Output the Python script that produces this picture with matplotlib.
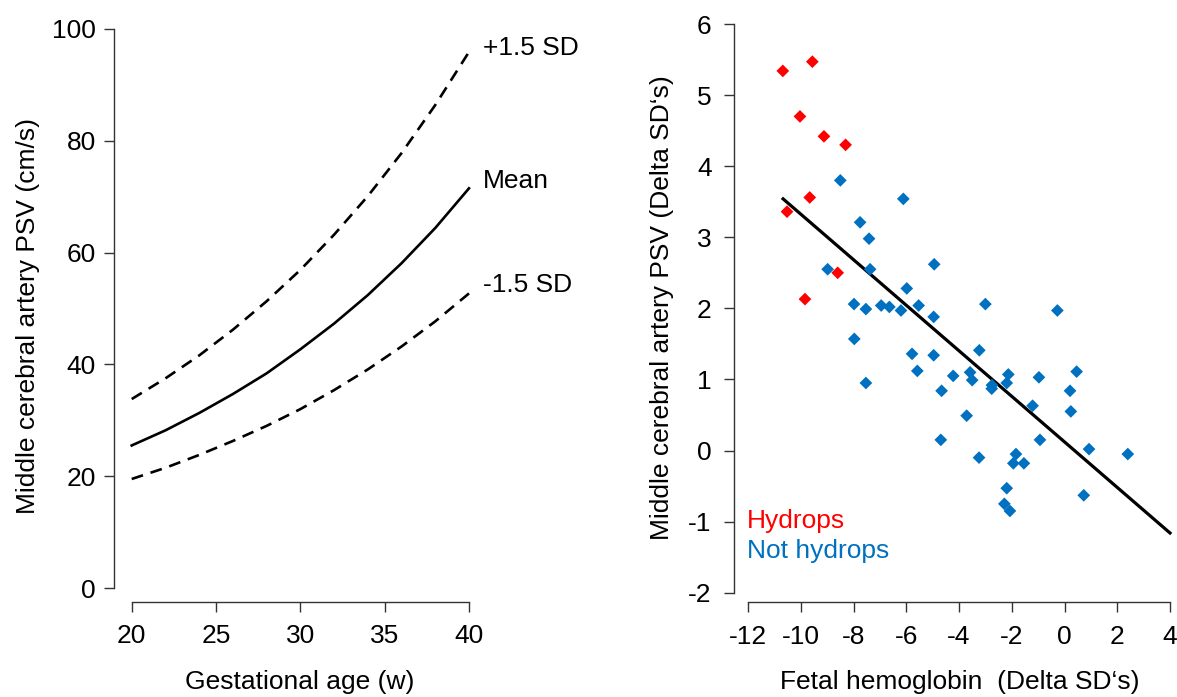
import matplotlib
matplotlib.use("Agg")
import matplotlib.pyplot as plt

plt.rcParams['font.family'] = ['Liberation Sans', 'DejaVu Sans']
plt.rcParams['axes.unicode_minus'] = False

# ---- Left panel data ----
weeks = [20, 22, 24, 26, 28, 30, 32, 34, 36, 38, 40]
mean_psv = [25.5, 28.2, 31.3, 34.7, 38.4, 42.7, 47.3, 52.4, 58.1, 64.4, 71.5]
upper_psv = [33.8, 37.5, 41.6, 46.2, 51.3, 56.9, 63.2, 70.1, 77.8, 86.4, 95.9]
lower_psv = [19.5, 21.5, 23.8, 26.3, 29.0, 32.0, 35.4, 39.1, 43.2, 47.7, 52.7]
left_xticks = [20, 25, 30, 35, 40]
left_yticks = [0, 20, 40, 60, 80, 100]

# ---- Right panel data ----
hyd_x = [-10.68, -9.56, -10.03, -9.12, -8.30, -9.66, -10.52, -8.60, -9.84]
hyd_y = [5.34, 5.47, 4.70, 4.42, 4.30, 3.56, 3.36, 2.50, 2.13]

non_x = [-8.50, -6.11, -7.75, -7.41, -7.37, -4.94, -5.98, -8.98, -7.98, -7.53,
         -6.95, -6.64, -6.20, -5.53, -4.96, -3.00, -7.97, -5.78, -4.96, -3.23,
         -5.58, -4.22, -3.58, -2.13, -0.97, -0.27, -3.50, -2.19, -2.75, -2.76,
         0.46, -4.66, 0.21, -1.21, 0.24, -3.71, -4.69, -0.93, 0.93, 2.40,
         -3.24, -1.84, -1.94, -1.54, -2.19, 0.73, -2.28, -2.07, -7.53]
non_y = [3.80, 3.54, 3.21, 2.98, 2.55, 2.62, 2.28, 2.55, 2.06, 1.99,
         2.04, 2.02, 1.97, 2.04, 1.88, 2.06, 1.57, 1.36, 1.34, 1.41,
         1.12, 1.05, 1.10, 1.07, 1.03, 1.97, 0.99, 0.95, 0.92, 0.87,
         1.11, 0.84, 0.84, 0.63, 0.55, 0.49, 0.15, 0.15, 0.02, -0.05,
         -0.10, -0.05, -0.18, -0.18, -0.53, -0.63, -0.75, -0.85, 0.95]

reg_x = [-10.67, 4.0]
reg_y = [3.54, -1.16]
right_xticks = [-12, -10, -8, -6, -4, -2, 0, 2, 4]
right_yticks = [-2, -1, 0, 1, 2, 3, 4, 5, 6]

W, H = 1177, 697
fig = plt.figure(figsize=(W / 100, H / 100), dpi=100)

FS = 19
SPINE_C = '#333333'
RED = '#FF0000'
BLUE = '#0070C0'


def rect(x0, x1, ytop, ybot):
    return [x0 / W, 1 - ybot / H, (x1 - x0) / W, (ybot - ytop) / H]


# ---------------- Left panel ----------------
ax1 = fig.add_axes(rect(131.7, 469.0, 29.0, 588.0))
ax1.plot(weeks, mean_psv, color='black', lw=1.9, clip_on=False)
ax1.plot(weeks, upper_psv, color='black', lw=1.9, ls=(0, (4.5, 3)), clip_on=False)
ax1.plot(weeks, lower_psv, color='black', lw=1.9, ls=(0, (4.5, 3)), clip_on=False)
ax1.set_xlim(20, 40)
ax1.set_ylim(0, 100)
ax1.set_xticks(left_xticks)
ax1.set_yticks(left_yticks)
for s in ['top', 'right']:
    ax1.spines[s].set_visible(False)
ax1.spines['left'].set_position(('outward', 12.7))
ax1.spines['bottom'].set_position(('outward', 10))
ax1.spines['left'].set_bounds(0, 100)
ax1.spines['bottom'].set_bounds(20, 40)
for s in ['left', 'bottom']:
    ax1.spines[s].set_color(SPINE_C)
    ax1.spines[s].set_linewidth(1.0)
ax1.tick_params(axis='both', direction='out', length=7.2, width=1.0,
                color=SPINE_C, labelsize=FS, labelcolor='black')
ax1.tick_params(axis='y', pad=6)
ax1.tick_params(axis='x', pad=9)
ax1.text(40.83, 96.6, '+1.5 SD', fontsize=FS, ha='left', va='center', clip_on=False)
ax1.text(40.83, 72.8, 'Mean', fontsize=FS, ha='left', va='center', clip_on=False)
ax1.text(40.83, 54.2, '-1.5 SD', fontsize=FS, ha='left', va='center', clip_on=False)
fig.text(28 / W, 1 - 316 / H, 'Middle cerebral artery PSV (cm/s)', rotation=90,
         ha='center', va='center', fontsize=FS)
fig.text(300 / W, 1 - 682 / H, 'Gestational age (w)', ha='center', va='center',
         fontsize=FS)

# ---------------- Right panel ----------------
ax2 = fig.add_axes(rect(748.0, 1170.0, 24.0, 592.7))
ax2.scatter(non_x, non_y, marker='D', s=42, color=BLUE, edgecolors='none',
            clip_on=False, zorder=3)
ax2.scatter(hyd_x, hyd_y, marker='D', s=42, color=RED, edgecolors='none',
            clip_on=False, zorder=3)
ax2.plot(reg_x, reg_y, color='black', lw=2.3, clip_on=False, zorder=2)
ax2.set_xlim(-12, 4)
ax2.set_ylim(-2, 6)
ax2.set_xticks(right_xticks)
ax2.set_yticks(right_yticks)
for s in ['top', 'right']:
    ax2.spines[s].set_visible(False)
ax2.spines['left'].set_position(('outward', 10))
ax2.spines['bottom'].set_position(('outward', 6.7))
ax2.spines['left'].set_bounds(-2, 6)
ax2.spines['bottom'].set_bounds(-12, 4)
for s in ['left', 'bottom']:
    ax2.spines[s].set_color(SPINE_C)
    ax2.spines[s].set_linewidth(1.0)
ax2.tick_params(axis='both', direction='out', length=7.2, width=1.0,
                color=SPINE_C, labelsize=FS, labelcolor='black')
ax2.tick_params(axis='y', pad=9)
ax2.tick_params(axis='x', pad=9)
ax2.text(-12.04, -0.99, 'Hydrops', color=RED, fontsize=FS, ha='left', va='center')
ax2.text(-12.04, -1.41, 'Not hydrops', color=BLUE, fontsize=FS, ha='left', va='center')
fig.text(662 / W, 1 - 308 / H, 'Middle cerebral artery PSV (Delta SD\u2018s)', rotation=90,
         ha='center', va='center', fontsize=FS)
fig.text(960 / W, 1 - 682 / H, 'Fetal hemoglobin  (Delta SD\u2018s)', ha='center',
         va='center', fontsize=FS)

fig.savefig('out.png', dpi=100, facecolor='white')
